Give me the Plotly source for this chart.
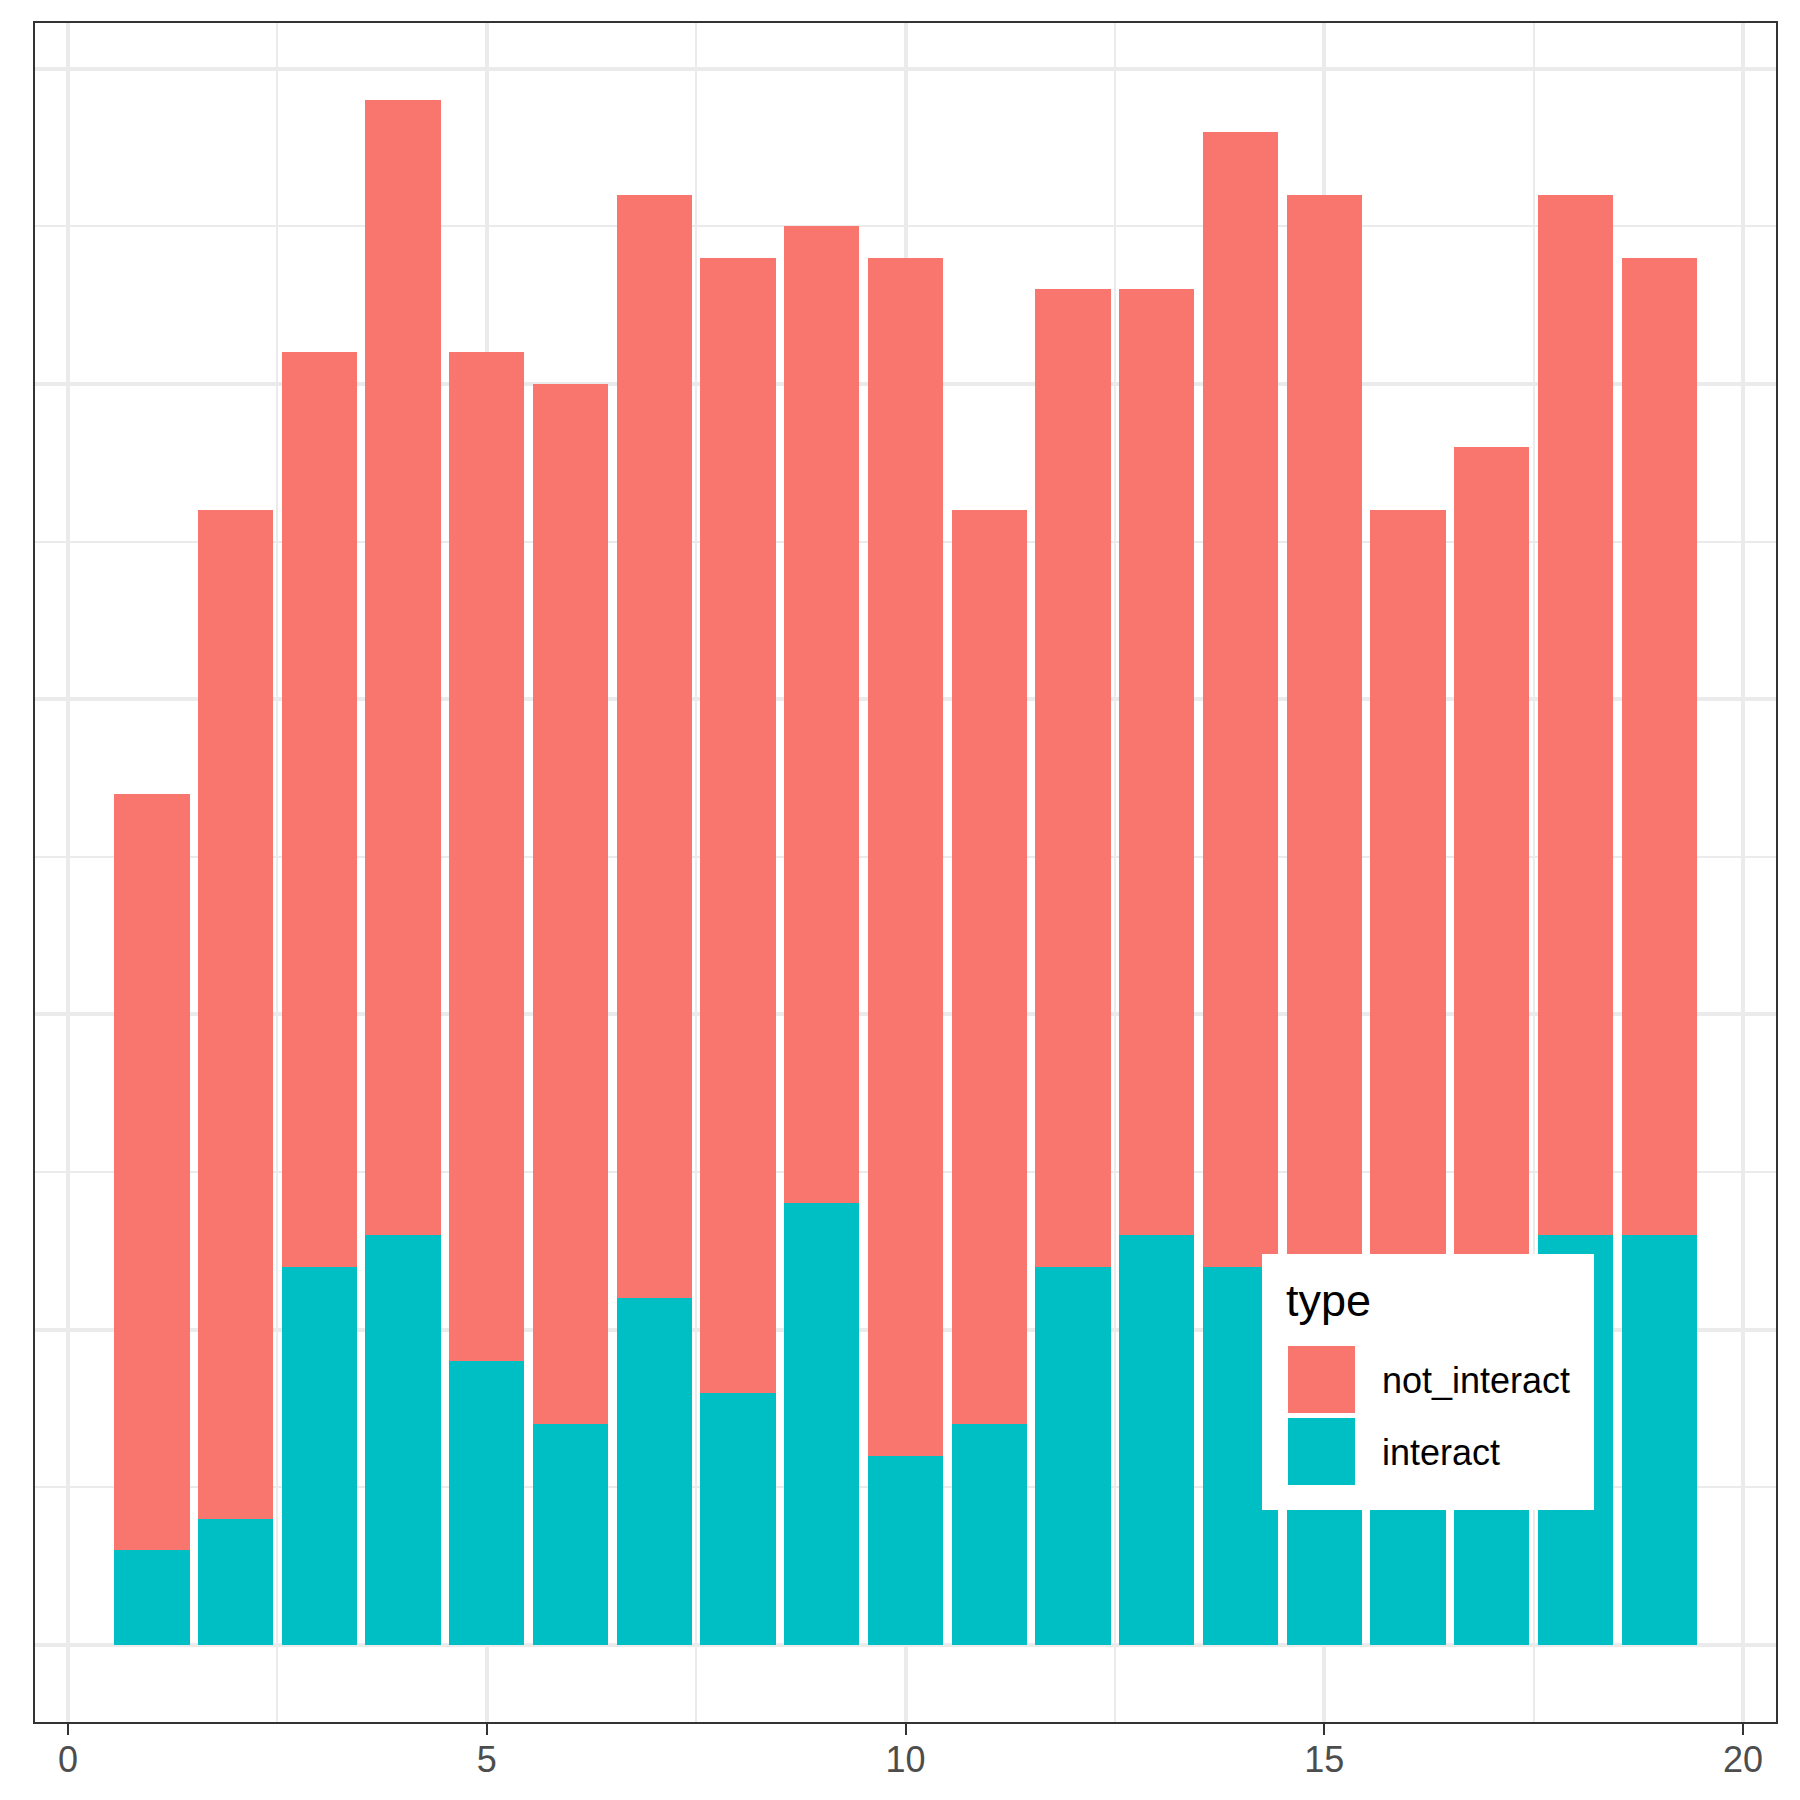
import plotly.graph_objects as go

x_pos = list(range(1, 20))
interact = [3, 4, 12, 13, 9, 7, 11, 8, 14, 6, 7, 12, 13, 12, 10, 9, 11, 13, 13]
total = [27, 36, 41, 49, 41, 40, 46, 44, 45, 44, 36, 43, 43, 48, 46, 36, 38, 46, 44]
not_interact = [t - i for t, i in zip(total, interact)]
x_ticks = [0, 5, 10, 15, 20]
legend_title = "type"
legend_labels = ["not_interact", "interact"]
colors = {"not_interact": "#F8766D", "interact": "#00BFC4"}

fig = go.Figure()
fig.add_trace(go.Bar(x=x_pos, y=interact, width=0.9, name="interact",
                     marker=dict(color=colors["interact"], line=dict(width=0))))
fig.add_trace(go.Bar(x=x_pos, y=not_interact, width=0.9, name="not_interact",
                     marker=dict(color=colors["not_interact"], line=dict(width=0))))

W, H = 1800, 1800
OFF = 8  # page body margin
ml, mt = 35 - OFF, 23 - OFF
pw, ph = 1741, 1699
mr, mb = W - ml - pw, H - mt - ph

def px2paper(xp, yp):
    # xp, yp in screenshot pixels
    return (xp - OFF - ml) / pw, (mt + OFF + ph - yp) / ph

fig.update_layout(
    width=W, height=H, barmode="stack", bargap=0,
    plot_bgcolor="white", paper_bgcolor="white",
    margin=dict(l=ml, r=mr, t=mt, b=mb),
    showlegend=False,
    font=dict(family="Liberation Sans, Arial, sans-serif"),
)
fig.update_xaxes(
    range=[-0.395, 20.395], tickvals=x_ticks, ticktext=[str(v) for v in x_ticks],
    showgrid=True, gridcolor="#EBEBEB", gridwidth=4,
    minor=dict(dtick=2.5, tick0=0, showgrid=True, gridcolor="#EBEBEB", gridwidth=2, ticks=""),
    ticks="outside", ticklen=11, tickwidth=2, tickcolor="#333333",
    tickfont=dict(size=36, color="#4D4D4D"), ticklabelstandoff=-6,
    showline=True, linecolor="#333333", linewidth=2, mirror=True, zeroline=False,
)
fig.update_yaxes(
    range=[-2.45, 51.45], tick0=0, dtick=10, showticklabels=False, ticks="",
    showgrid=True, gridcolor="#EBEBEB", gridwidth=4,
    minor=dict(dtick=5, tick0=0, showgrid=True, gridcolor="#EBEBEB", gridwidth=2, ticks=""),
    showline=True, linecolor="#333333", linewidth=2, mirror=True, zeroline=False,
)

# custom legend (ggplot-style, inside panel)
x0, y0 = px2paper(1262, 1510)
x1, y1 = px2paper(1594, 1254)
fig.add_shape(type="rect", xref="paper", yref="paper", x0=x0, y0=y0, x1=x1, y1=y1,
              fillcolor="white", line=dict(width=0), layer="above")
key_tops = [1346, 1418]
for lab, top in zip(legend_labels, key_tops):
    kx0, ky0 = px2paper(1288, top + 67)
    kx1, ky1 = px2paper(1355, top)
    fig.add_shape(type="rect", xref="paper", yref="paper", x0=kx0, y0=ky0, x1=kx1, y1=ky1,
                  fillcolor=colors[lab], line=dict(width=0), layer="above")
    tx, ty = px2paper(1380, top + 34)
    fig.add_annotation(xref="paper", yref="paper", x=tx, y=ty, text=lab, showarrow=False,
                       xanchor="left", yanchor="middle", font=dict(size=36, color="black"))
tx, ty = px2paper(1284, 1300)
fig.add_annotation(xref="paper", yref="paper", x=tx, y=ty, text=legend_title, showarrow=False,
                   xanchor="left", yanchor="middle", font=dict(size=45, color="black"))

fig.write_html("out.html")
